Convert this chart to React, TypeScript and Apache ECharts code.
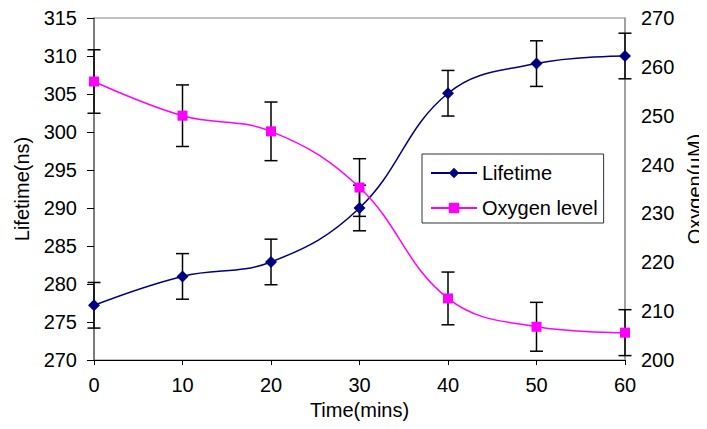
import React, { useEffect, useRef } from "react";
import * as echarts from "echarts";

const times = [0, 10, 20, 30, 40, 50, 60];
const lifetime = [277.2, 281, 282.9, 290, 305.1, 309, 310];
const lifetimeErr = [3, 3, 3, 3, 3, 3, 3];
const oxygen = [257, 250, 246.8, 235.3, 212.6, 206.8, 205.6];
const oxygenErr = [6.5, 6.3, 6, 5.9, 5.4, 5, 4.7];
const seriesNames = ["Lifetime", "Oxygen level"];
const rightAxisName = "Oxygen(µM)";

const FONT = "Liberation Sans, Arial, sans-serif";

function errorBars(vals: number[], errs: number[], yAxisIndex: number, name: string) {
  return {
    type: "custom",
    name,
    yAxisIndex,
    z: 1,
    silent: true,
    data: times.map((t, i) => [t, vals[i] - errs[i], vals[i] + errs[i]]),
    renderItem: (params: any, api: any) => {
      const x = api.value(0);
      const lo = api.coord([x, api.value(1)]);
      const hi = api.coord([x, api.value(2)]);
      const hw = 6.5;
      const style = { stroke: "#000", lineWidth: 1.5 };
      return {
        type: "group",
        children: [
          { type: "line", shape: { x1: lo[0], y1: lo[1], x2: hi[0], y2: hi[1] }, style },
          { type: "line", shape: { x1: lo[0] - hw, y1: lo[1], x2: lo[0] + hw, y2: lo[1] }, style },
          { type: "line", shape: { x1: hi[0] - hw, y1: hi[1], x2: hi[0] + hw, y2: hi[1] }, style },
        ],
      };
    },
  };
}

export default function App() {
  const ref = useRef<HTMLDivElement>(null);
  useEffect(() => {
    if (!ref.current) return;
    const chart = echarts.init(ref.current, null, { renderer: "svg" });
    const labelStyle = { color: "#000", fontSize: 20, fontFamily: FONT };
    chart.setOption({
      animation: false,
      grid: {
        left: 94,
        right: 82,
        top: 18,
        bottom: 69,
        show: true,
        borderColor: "#808080",
        borderWidth: 1,
        containLabel: false,
        outerBoundsMode: "none",
      },
      graphic: [
        {
          type: "text",
          x: 695,
          y: 189,
          rotation: Math.PI / 2,
          style: {
            text: rightAxisName,
            fill: "#000",
            fontSize: 20,
            fontFamily: FONT,
            align: "center",
            verticalAlign: "middle",
          },
        },
      ],
      legend: {
        data: seriesNames,
        orient: "vertical",
        left: 422,
        top: 154,
        padding: [9, 6, 5, 8],
        itemGap: 15,
        itemWidth: 46,
        itemHeight: 13,
        borderColor: "#333",
        borderWidth: 1,
        textStyle: { color: "#000", fontSize: 20, fontFamily: FONT },
      },
      xAxis: {
        type: "value",
        min: 0,
        max: 60,
        interval: 10,
        name: "Time(mins)",
        nameLocation: "middle",
        nameGap: 40,
        nameTextStyle: labelStyle,
        axisLine: { lineStyle: { color: "#000", width: 1 } },
        axisTick: { length: 5, lineStyle: { color: "#000" } },
        axisLabel: { ...labelStyle, margin: 15 },
        splitLine: { show: false },
      },
      yAxis: [
        {
          type: "value",
          min: 270,
          max: 315,
          interval: 5,
          name: "Lifetime(ns)",
          nameLocation: "middle",
          nameGap: 62,
          nameRotate: 90,
          nameTextStyle: labelStyle,
          axisLine: { show: true, lineStyle: { color: "#666", width: 1.5 } },
          axisTick: { show: true, length: 7, lineStyle: { color: "#000" } },
          axisLabel: { ...labelStyle, margin: 17 },
          splitLine: { show: false },
        },
        {
          type: "value",
          min: 200,
          max: 270,
          interval: 10,
          position: "right",
          axisLine: { show: true, lineStyle: { color: "#999", width: 1.5 } },
          axisTick: { show: false },
          axisLabel: { ...labelStyle, margin: 16 },
          splitLine: { show: false },
        },
      ],
      series: [
        errorBars(lifetime, lifetimeErr, 0, "lifetimeErr"),
        errorBars(oxygen, oxygenErr, 1, "oxygenErr"),
        {
          type: "line",
          name: seriesNames[0],
          yAxisIndex: 0,
          z: 3,
          smooth: 0.4,
          data: times.map((t, i) => [t, lifetime[i]]),
          symbol: "diamond",
          symbolSize: 12,
          lineStyle: { color: "#000080", width: 1.5 },
          itemStyle: { color: "#000080" },
        },
        {
          type: "line",
          name: seriesNames[1],
          yAxisIndex: 1,
          z: 3,
          smooth: 0.4,
          data: times.map((t, i) => [t, oxygen[i]]),
          symbol: "rect",
          symbolSize: 10,
          lineStyle: { color: "#FF00FF", width: 1.5 },
          itemStyle: { color: "#FF00FF" },
        },
      ],
    });
    return () => chart.dispose();
  }, []);
  return <div ref={ref} style={{ width: 707, height: 429, margin: -8 }} />;
}
